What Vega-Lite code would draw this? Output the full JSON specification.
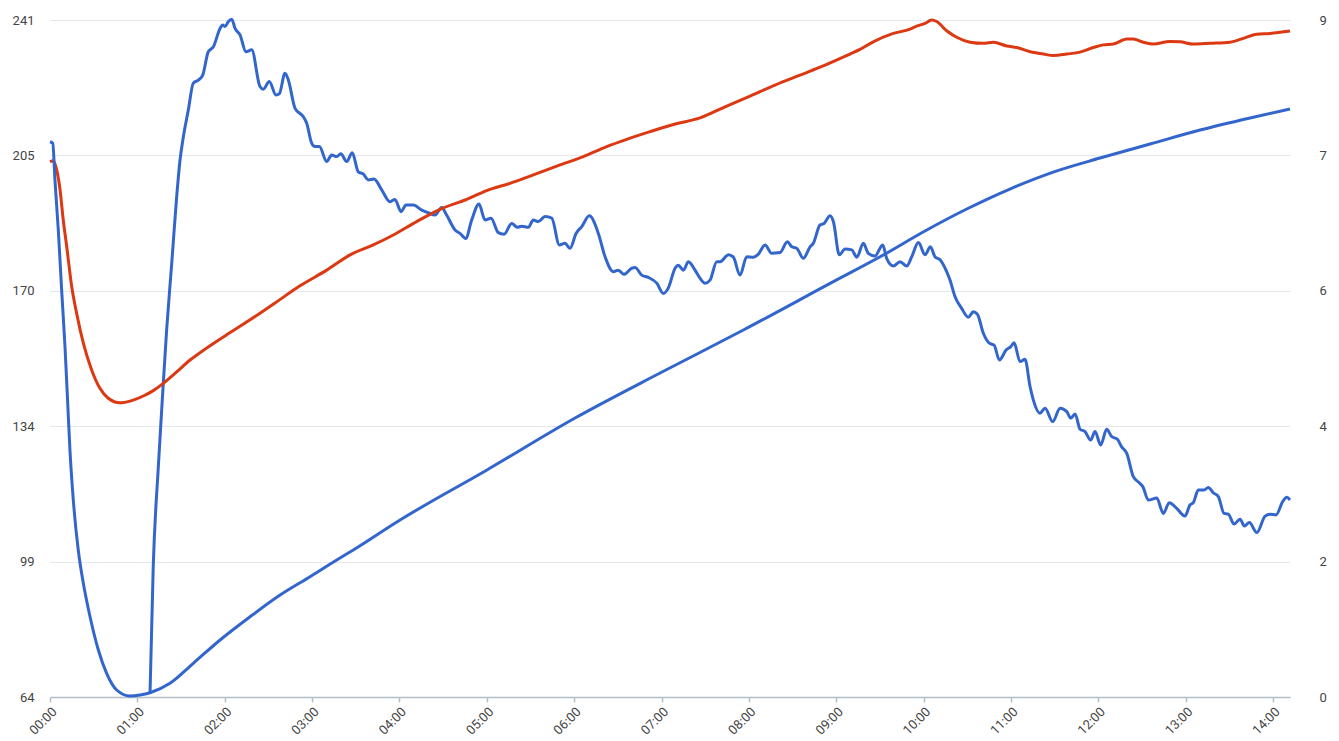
{
  "$schema": "https://vega.github.io/schema/vega-lite/v6.json",
  "width": 1240,
  "height": 677,
  "autosize": {"type": "none"},
  "padding": {"left": 50, "top": 20, "right": 49, "bottom": 44},
  "background": "#ffffff",
  "config": {
    "view": {"stroke": null},
    "font": "Roboto",
    "axis": {"labelFont": "Roboto", "labelFontSize": 13, "labelColor": "#444444"}
  },
  "datasets": {
    "red": [
      {"m": 0, "v": 203.9}, {"m": 2.3, "v": 204.2}, {"m": 4.6, "v": 201.8}, {"m": 6.9, "v": 196.6},
      {"m": 9.1, "v": 188.7}, {"m": 11.5, "v": 181.7}, {"m": 14.9, "v": 171.3}, {"m": 18.3, "v": 164.3},
      {"m": 22.9, "v": 156.5}, {"m": 28.6, "v": 149.5}, {"m": 34.3, "v": 144.7}, {"m": 40.0, "v": 142.1},
      {"m": 48.1, "v": 140.9}, {"m": 56.1, "v": 141.5}, {"m": 64.1, "v": 142.7}, {"m": 70.9, "v": 144.1},
      {"m": 77.8, "v": 146.0}, {"m": 87.0, "v": 149.0}, {"m": 96.2, "v": 152.1}, {"m": 103.0, "v": 154.0},
      {"m": 120.2, "v": 158.4}, {"m": 137.4, "v": 162.6}, {"m": 154.5, "v": 167.0}, {"m": 171.7, "v": 171.5},
      {"m": 190.0, "v": 175.6}, {"m": 206.1, "v": 179.6}, {"m": 222.0, "v": 182.2}, {"m": 235.8, "v": 184.8},
      {"m": 251.8, "v": 188.3}, {"m": 267.9, "v": 191.5}, {"m": 286.2, "v": 194.1}, {"m": 299.9, "v": 196.4},
      {"m": 315.9, "v": 198.3}, {"m": 331.9, "v": 200.5}, {"m": 350.3, "v": 203.1}, {"m": 366.3, "v": 205.3},
      {"m": 382.3, "v": 207.9}, {"m": 396.1, "v": 209.8}, {"m": 412.1, "v": 211.8}, {"m": 429.3, "v": 213.8},
      {"m": 446.4, "v": 215.4}, {"m": 463.6, "v": 218.3}, {"m": 480.8, "v": 221.1}, {"m": 497.9, "v": 224.0},
      {"m": 515.1, "v": 226.6}, {"m": 532.3, "v": 229.2}, {"m": 549.4, "v": 232.1}, {"m": 556.3, "v": 233.3},
      {"m": 565.4, "v": 235.3}, {"m": 579.2, "v": 237.5}, {"m": 590.6, "v": 238.6}, {"m": 595.2, "v": 239.4},
      {"m": 600.9, "v": 240.1}, {"m": 605.5, "v": 241.0}, {"m": 609.0, "v": 240.6}, {"m": 615.8, "v": 238.2},
      {"m": 622.7, "v": 236.5}, {"m": 631.9, "v": 235.2}, {"m": 641.0, "v": 234.9}, {"m": 647.9, "v": 235.2},
      {"m": 657.1, "v": 234.2}, {"m": 663.9, "v": 233.8}, {"m": 673.1, "v": 232.7}, {"m": 682.2, "v": 232.1},
      {"m": 689.1, "v": 231.7}, {"m": 698.3, "v": 232.1}, {"m": 707.4, "v": 232.6}, {"m": 716.5, "v": 233.8},
      {"m": 723.4, "v": 234.5}, {"m": 730.3, "v": 234.7}, {"m": 739.5, "v": 236.0}, {"m": 744.0, "v": 236.0},
      {"m": 750.9, "v": 235.2}, {"m": 757.7, "v": 234.7}, {"m": 769.2, "v": 235.4}, {"m": 776.1, "v": 235.3},
      {"m": 785.2, "v": 234.7}, {"m": 796.7, "v": 234.9}, {"m": 810.4, "v": 235.2}, {"m": 819.6, "v": 236.2},
      {"m": 828.8, "v": 237.3}, {"m": 837.9, "v": 237.5}, {"m": 851.6, "v": 238.1}
    ],
    "jag": [
      {"m": 68.7, "v": 65.1}, {"m": 70.9, "v": 98.1}, {"m": 74.4, "v": 124.2}, {"m": 76.7, "v": 139.0},
      {"m": 80.1, "v": 160.0}, {"m": 83.6, "v": 177.4}, {"m": 87.0, "v": 194.8}, {"m": 89.3, "v": 204.4},
      {"m": 91.6, "v": 210.5}, {"m": 95.0, "v": 217.5}, {"m": 98.4, "v": 224.5}, {"m": 101.9, "v": 225.3},
      {"m": 104.9, "v": 226.6}, {"m": 108.7, "v": 232.7}, {"m": 112.2, "v": 234.0}, {"m": 116.8, "v": 238.8},
      {"m": 118.6, "v": 239.7}, {"m": 120.2, "v": 239.3}, {"m": 122.5, "v": 240.6}, {"m": 124.8, "v": 241.2},
      {"m": 127.1, "v": 238.8}, {"m": 130.5, "v": 237.1}, {"m": 134.6, "v": 232.7}, {"m": 138.5, "v": 233.2},
      {"m": 144.2, "v": 223.6}, {"m": 146.5, "v": 222.9}, {"m": 150.6, "v": 224.9}, {"m": 155.2, "v": 221.4},
      {"m": 157.5, "v": 221.7}, {"m": 161.4, "v": 227.1}, {"m": 163.7, "v": 225.3}, {"m": 168.3, "v": 217.9},
      {"m": 174.0, "v": 215.7}, {"m": 176.3, "v": 214.0}, {"m": 179.7, "v": 208.8}, {"m": 182.0, "v": 207.9},
      {"m": 185.0, "v": 207.9}, {"m": 190.0, "v": 204.0}, {"m": 193.5, "v": 205.7}, {"m": 196.9, "v": 205.3},
      {"m": 199.7, "v": 206.0}, {"m": 203.8, "v": 204.0}, {"m": 207.6, "v": 206.3}, {"m": 211.7, "v": 201.3},
      {"m": 215.2, "v": 200.7}, {"m": 218.6, "v": 199.2}, {"m": 222.5, "v": 199.4}, {"m": 227.8, "v": 196.6},
      {"m": 233.5, "v": 193.5}, {"m": 236.9, "v": 194.1}, {"m": 241.1, "v": 190.9}, {"m": 244.5, "v": 192.6},
      {"m": 249.5, "v": 192.6}, {"m": 255.3, "v": 191.3}, {"m": 259.8, "v": 190.6}, {"m": 264.4, "v": 190.0},
      {"m": 269.0, "v": 192.0}, {"m": 272.4, "v": 190.0}, {"m": 278.2, "v": 186.1}, {"m": 281.6, "v": 185.2},
      {"m": 285.5, "v": 183.9}, {"m": 289.6, "v": 188.7}, {"m": 294.6, "v": 192.9}, {"m": 298.8, "v": 188.7},
      {"m": 302.9, "v": 189.2}, {"m": 307.9, "v": 185.4}, {"m": 311.8, "v": 185.0}, {"m": 317.1, "v": 187.8},
      {"m": 320.9, "v": 186.8}, {"m": 324.0, "v": 187.1}, {"m": 328.5, "v": 186.8}, {"m": 331.9, "v": 188.7},
      {"m": 335.4, "v": 188.3}, {"m": 340.0, "v": 189.6}, {"m": 344.6, "v": 189.2}, {"m": 349.8, "v": 182.2},
      {"m": 353.7, "v": 182.6}, {"m": 357.1, "v": 181.3}, {"m": 361.3, "v": 185.2}, {"m": 365.2, "v": 187.0},
      {"m": 370.4, "v": 189.8}, {"m": 376.6, "v": 185.2}, {"m": 381.2, "v": 179.1}, {"m": 386.9, "v": 175.2},
      {"m": 390.3, "v": 175.6}, {"m": 394.2, "v": 174.5}, {"m": 399.5, "v": 176.1}, {"m": 401.8, "v": 176.3},
      {"m": 406.4, "v": 174.3}, {"m": 410.9, "v": 173.7}, {"m": 416.7, "v": 172.2}, {"m": 421.2, "v": 169.5},
      {"m": 424.6, "v": 170.9}, {"m": 429.3, "v": 176.1}, {"m": 431.5, "v": 176.9}, {"m": 435.0, "v": 175.6},
      {"m": 438.4, "v": 177.8}, {"m": 443.0, "v": 175.6}, {"m": 446.4, "v": 173.5}, {"m": 449.9, "v": 172.2},
      {"m": 453.3, "v": 173.0}, {"m": 457.9, "v": 177.8}, {"m": 460.2, "v": 177.8}, {"m": 465.9, "v": 179.6},
      {"m": 469.3, "v": 179.0}, {"m": 473.9, "v": 174.3}, {"m": 478.5, "v": 179.1}, {"m": 483.0, "v": 179.0},
      {"m": 486.5, "v": 179.8}, {"m": 491.1, "v": 182.2}, {"m": 495.6, "v": 180.0}, {"m": 501.4, "v": 180.2},
      {"m": 506.4, "v": 183.0}, {"m": 509.4, "v": 181.7}, {"m": 512.8, "v": 181.3}, {"m": 517.4, "v": 178.7},
      {"m": 522.0, "v": 181.7}, {"m": 524.2, "v": 182.6}, {"m": 528.8, "v": 187.4}, {"m": 531.6, "v": 187.8},
      {"m": 535.7, "v": 189.8}, {"m": 538.0, "v": 188.3}, {"m": 542.1, "v": 179.6}, {"m": 546.0, "v": 181.1},
      {"m": 550.6, "v": 180.9}, {"m": 554.1, "v": 179.0}, {"m": 558.6, "v": 182.6}, {"m": 562.0, "v": 180.0},
      {"m": 566.6, "v": 179.3}, {"m": 571.9, "v": 182.2}, {"m": 574.6, "v": 178.7}, {"m": 579.2, "v": 176.7},
      {"m": 583.8, "v": 177.8}, {"m": 588.4, "v": 176.7}, {"m": 591.8, "v": 179.1}, {"m": 596.4, "v": 182.8},
      {"m": 601.0, "v": 179.6}, {"m": 604.6, "v": 181.7}, {"m": 607.8, "v": 179.1}, {"m": 611.3, "v": 178.3},
      {"m": 615.8, "v": 175.2}, {"m": 618.1, "v": 173.0}, {"m": 621.5, "v": 168.7}, {"m": 626.1, "v": 165.6},
      {"m": 630.7, "v": 163.3}, {"m": 634.1, "v": 164.7}, {"m": 636.9, "v": 164.1}, {"m": 641.0, "v": 159.1},
      {"m": 645.1, "v": 156.5}, {"m": 648.4, "v": 156.0}, {"m": 652.0, "v": 152.1}, {"m": 656.6, "v": 154.7},
      {"m": 659.8, "v": 155.6}, {"m": 662.1, "v": 156.6}, {"m": 666.2, "v": 151.7}, {"m": 669.6, "v": 152.3},
      {"m": 673.1, "v": 145.1}, {"m": 675.3, "v": 141.7}, {"m": 679.9, "v": 138.2}, {"m": 683.4, "v": 139.5},
      {"m": 688.6, "v": 136.0}, {"m": 693.7, "v": 139.5}, {"m": 698.3, "v": 138.6}, {"m": 701.0, "v": 136.9},
      {"m": 704.0, "v": 138.0}, {"m": 707.4, "v": 134.0}, {"m": 710.8, "v": 133.4}, {"m": 714.7, "v": 131.2},
      {"m": 717.7, "v": 133.4}, {"m": 721.6, "v": 129.9}, {"m": 725.7, "v": 134.0}, {"m": 729.1, "v": 132.1},
      {"m": 733.0, "v": 131.4}, {"m": 736.0, "v": 129.4}, {"m": 739.5, "v": 127.7}, {"m": 744.0, "v": 121.6},
      {"m": 748.1, "v": 120.0}, {"m": 750.5, "v": 119.0}, {"m": 754.3, "v": 115.5}, {"m": 760.1, "v": 116.0},
      {"m": 764.6, "v": 112.0}, {"m": 768.7, "v": 114.8}, {"m": 773.8, "v": 113.3}, {"m": 779.5, "v": 111.3},
      {"m": 782.9, "v": 114.2}, {"m": 785.2, "v": 114.8}, {"m": 788.6, "v": 118.1}, {"m": 792.5, "v": 118.1},
      {"m": 795.5, "v": 118.8}, {"m": 798.9, "v": 117.4}, {"m": 802.4, "v": 116.4}, {"m": 806.3, "v": 112.0},
      {"m": 809.2, "v": 111.8}, {"m": 813.2, "v": 109.2}, {"m": 817.3, "v": 110.5}, {"m": 820.3, "v": 108.7},
      {"m": 823.7, "v": 109.6}, {"m": 828.8, "v": 107.0}, {"m": 834.5, "v": 111.3}, {"m": 837.9, "v": 111.8},
      {"m": 842.0, "v": 111.6}, {"m": 846.6, "v": 115.1}, {"m": 849.4, "v": 116.2}, {"m": 851.6, "v": 115.5}
    ],
    "smooth": [
      {"m": 0, "r": 7.546}, {"m": 1.9, "r": 7.524}, {"m": 3.4, "r": 7.025}, {"m": 5.7, "r": 6.346},
      {"m": 8.0, "r": 5.531}, {"m": 10.3, "r": 4.76}, {"m": 12.6, "r": 3.809}, {"m": 13.7, "r": 3.356},
      {"m": 16.0, "r": 2.677}, {"m": 19.4, "r": 1.998}, {"m": 22.9, "r": 1.545}, {"m": 27.5, "r": 1.091},
      {"m": 33.2, "r": 0.639}, {"m": 38.9, "r": 0.322}, {"m": 45.8, "r": 0.095}, {"m": 54.9, "r": 0.014},
      {"m": 61.8, "r": 0.027}, {"m": 68.7, "r": 0.058}, {"m": 82.4, "r": 0.186}, {"m": 98.4, "r": 0.458},
      {"m": 116.8, "r": 0.775}, {"m": 137.4, "r": 1.091}, {"m": 158.0, "r": 1.386}, {"m": 178.6, "r": 1.635},
      {"m": 196.9, "r": 1.862}, {"m": 208.3, "r": 1.998}, {"m": 240.4, "r": 2.405}, {"m": 300.1, "r": 3.085},
      {"m": 360.6, "r": 3.791}, {"m": 420.3, "r": 4.416}, {"m": 476.2, "r": 4.987}, {"m": 538.0, "r": 5.644},
      {"m": 572.3, "r": 6.006}, {"m": 600.9, "r": 6.333}, {"m": 629.6, "r": 6.632}, {"m": 660.0, "r": 6.91},
      {"m": 690.0, "r": 7.14}, {"m": 721.1, "r": 7.324}, {"m": 755.5, "r": 7.515}, {"m": 789.8, "r": 7.705},
      {"m": 824.2, "r": 7.869}, {"m": 851.6, "r": 7.99}
    ]
  },
  "encoding": {
    "x": {
      "field": "m",
      "type": "quantitative",
      "scale": {"domain": [0, 851.6], "nice": false, "zero": false},
      "axis": {
        "title": null,
        "values": [0, 60, 120, 180, 240, 300, 360, 420, 480, 540, 600, 660, 720, 780, 840],
        "labelExpr": "(datum.value < 600 ? '0' : '') + (datum.value / 60) + ':00'",
        "labelAngle": -45,
        "labelAlign": "right",
        "labelBaseline": "top",
        "labelPadding": 3,
        "grid": false,
        "tickSize": 5,
        "tickColor": "#b3bec9",
        "domainColor": "#b3bec9",
        "domainWidth": 1.5,
        "tickWidth": 1.5
      }
    }
  },
  "layer": [
    {
      "encoding": {
        "y": {
          "field": "v",
          "type": "quantitative",
          "scale": {"domain": [64, 241], "nice": false, "zero": false},
          "axis": {
            "title": null,
            "values": [64, 99.4, 134.8, 170.2, 205.6, 241],
            "labelExpr": "floor(datum.value)",
            "grid": true,
            "gridColor": "#e5e9ee",
            "ticks": false,
            "domain": false,
            "labelPadding": 16
          }
        }
      },
      "layer": [
        {"data": {"name": "jag"}, "mark": {"type": "line", "color": "#3366cc", "strokeWidth": 3, "interpolate": "monotone"}},
        {"data": {"name": "red"}, "mark": {"type": "line", "color": "#dc3912", "strokeWidth": 3, "interpolate": "monotone"}}
      ]
    },
    {
      "data": {"name": "smooth"},
      "mark": {"type": "line", "color": "#3366cc", "strokeWidth": 3, "interpolate": "monotone"},
      "encoding": {
        "y": {
          "field": "r",
          "type": "quantitative",
          "scale": {"domain": [0, 9.2], "nice": false, "zero": false},
          "axis": {
            "title": null,
            "orient": "right",
            "values": [0, 1.84, 3.68, 5.52, 7.36, 9.2],
            "labelExpr": "round(datum.value)",
            "grid": false,
            "ticks": false,
            "domain": false,
            "labelPadding": 29
          }
        }
      }
    }
  ],
  "resolve": {"scale": {"y": "independent"}}
}
